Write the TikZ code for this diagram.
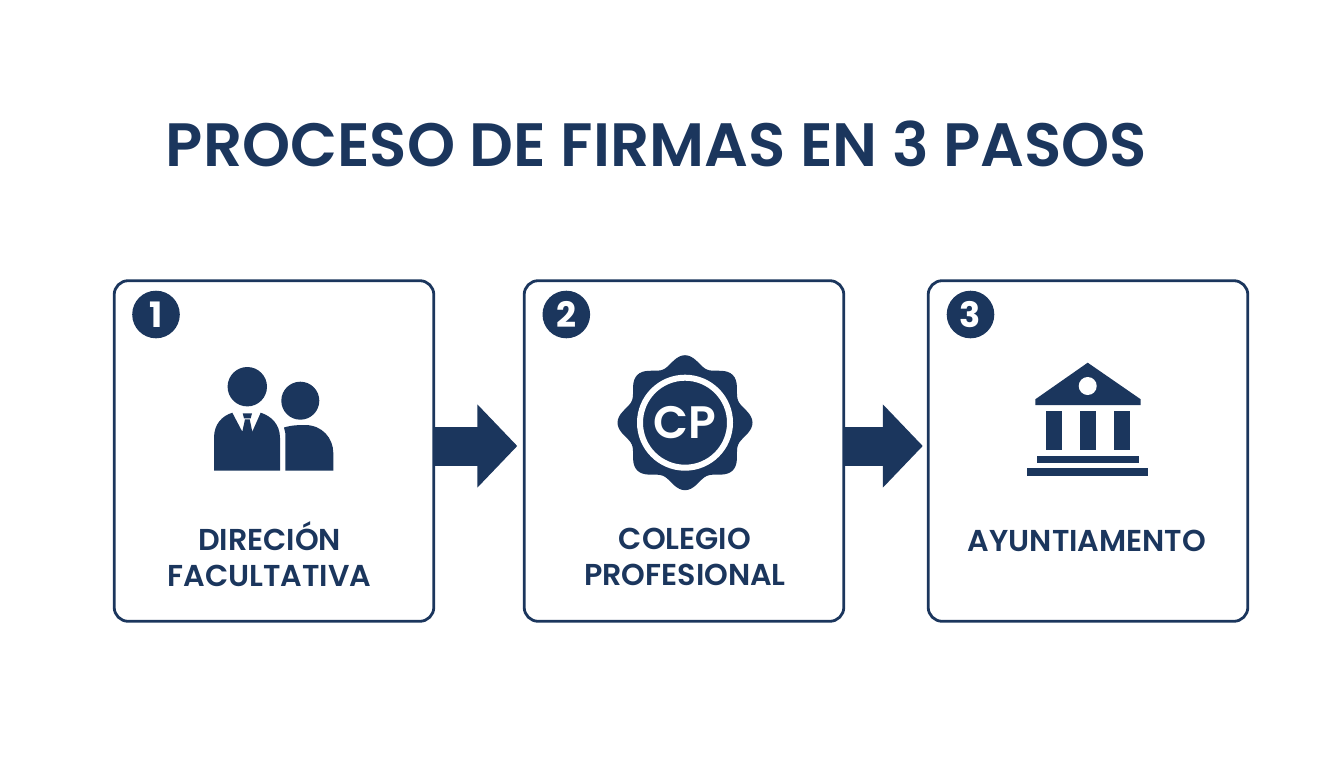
\documentclass[tikz,border=0pt]{standalone}
\usepackage{fontspec}
\setmainfont{Poppins}
\newfontfamily\semifont{Poppins SemiBold}
\usetikzlibrary{arrows.meta}
\definecolor{navy}{HTML}{1B365D}
\tikzset{
	stepbox/.style={draw=navy, line width=2.8pt, rounded corners=14pt, minimum width=319.6pt, minimum height=340.6pt},
	stepnum/.style={circle, fill=navy, text=white, minimum size=47.6pt, inner sep=0pt, font=\fontsize{35}{35}\selectfont\bfseries},
	steplabel/.style={text=navy, align=center, inner sep=0pt, font=\fontsize{30.2}{36.5}\selectfont\semifont},
	bigarrow/.style={draw=navy, line width=39pt, -{Triangle[width=81pt,length=40pt]}},
}
\newcommand\personicon{
	% heads
	\fill[navy] (247.3,386.7) circle (19.7);
	\fill[navy] (300.3,400.7) circle (19);
	% left body with collar
	\fill[navy] (214,470.7) -- (214,438) .. controls (214,424) and (222,416) .. (232.3,412.7)
		-- (242.3,431.7) -- (245,419.3) -- (249.7,419.3) -- (252.3,431.7) -- (260.7,412.7)
		.. controls (271,416) and (280,424) .. (280,438) -- (280,470.7) -- cycle;
	% tie knot
	\fill[navy] (242.7,413.3) -- (252,413.3) -- (250.7,418.3) -- (244,418.3) -- cycle;
	% right body
	\fill[navy] (285.3,470.7) -- (285.3,433) -- (284,427.5)
		.. controls (292,425) and (300,425) .. (305,425)
		.. controls (322,425) and (333.3,438) .. (333.3,453) -- (333.3,470.7) -- cycle;
}
\newcommand\bankicon{
	% roof
	\fill[navy] (1087.7,362.7) -- (1140.7,399.3) -- (1140.7,405) -- (1035.3,405) -- (1035.3,399.3) -- cycle;
	\fill[white] (1087.7,386) circle (9);
	% columns
	\foreach \colx in {1046,1080,1114}
		\fill[navy] (\colx,410.7) rectangle ({\colx+15.6},450);
	% steps
	\fill[navy] (1036.7,455.7) rectangle (1139,463.3);
	\fill[navy] (1026.7,468.3) rectangle (1148.3,476.3);
}
\begin{document}
\begin{tikzpicture}[x=1pt, y=-1pt]
	\useasboundingbox (0,0) rectangle (1344,768);
	\fill[white] (0,0) rectangle (1344,768);

	\node[text=navy, inner sep=0pt, font=\fontsize{61.2}{61.2}\selectfont\semifont] (title) at (656.5,144) {PROCESO DE FIRMAS EN 3 PASOS};

	% boxes
	\node[stepbox] (box1) at (274,451) {};
	\node[stepbox] (box2) at (684,451) {};
	\node[stepbox] (box3) at (1088,451) {};

	% numbers
	\node[stepnum] (num1) at (156,314.5) {1};
	\node[stepnum] (num2) at (566.3,314.5) {2};
	\node[stepnum] (num3) at (970.5,314.5) {3};

	% box to box
	\draw[bigarrow, shorten >=5.5pt] ([yshift=5pt]box1.east) -- ([yshift=5pt]box2.west);
	\draw[bigarrow, shorten >=4pt] ([yshift=5pt]box2.east) -- ([yshift=5pt]box3.west);

	\personicon

	% seal
	\fill[navy] plot[domain=0:360, samples=145, smooth] ({685+(62.5+5*cos(8*\x))*cos(\x)}, {422.7+(62.5+5*cos(8*\x))*sin(\x)}) -- cycle;
	\draw[white, line width=6pt] (685,422.7) circle (45);
	\node[text=white, inner sep=0pt, font=\fontsize{45.5}{45.5}\selectfont\semifont] (seal) at (685,422.7) {CP};

	\bankicon

	% labels
	\node[steplabel] (label1) at (269.5,554) {DIRECIÓN\\FACULTATIVA};
	\node[steplabel] (label2) at (685,557) {COLEGIO\\PROFESIONAL};
	\node[steplabel] (label3) at (1087,541) {AYUNTIAMENTO};
\end{tikzpicture}
\end{document}
